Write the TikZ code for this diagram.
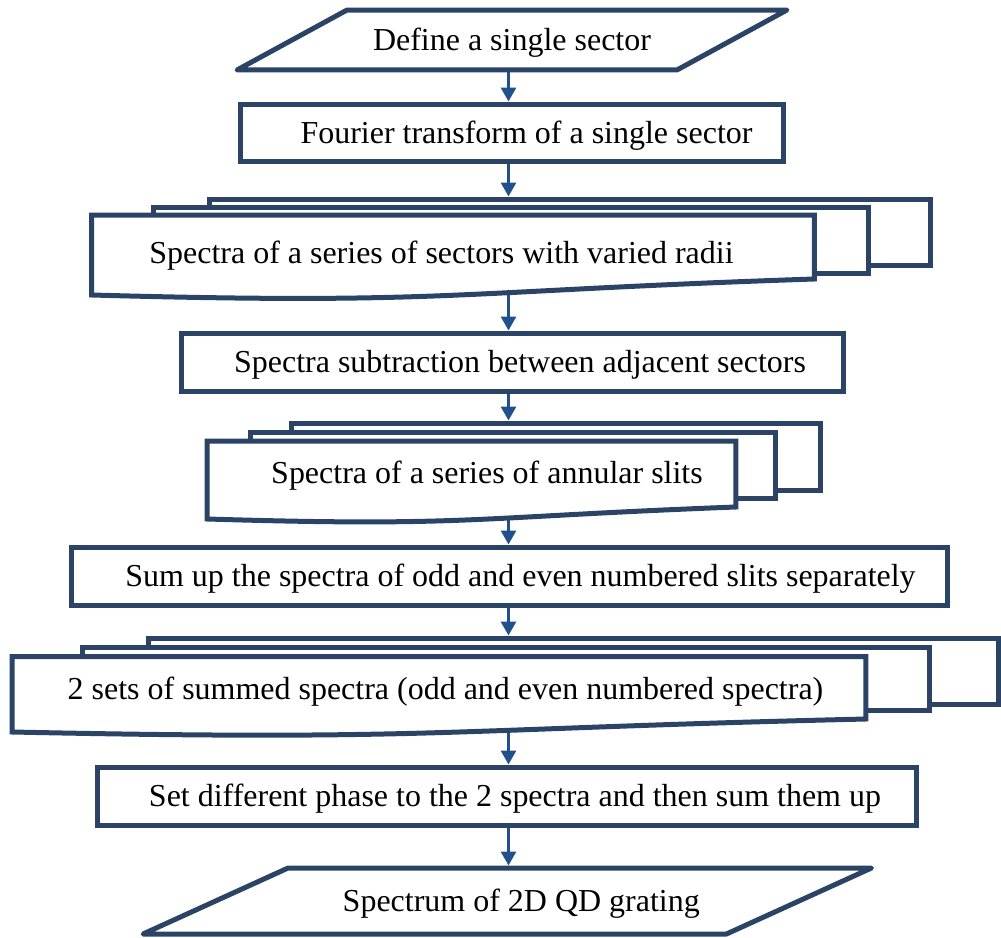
\documentclass[tikz,border=0pt]{standalone}
\usepackage{fontspec}
\setmainfont{Liberation Serif}
\usetikzlibrary{arrows.meta,calc,backgrounds}
\definecolor{boxblue}{HTML}{2B4466}
\definecolor{arrowblue}{HTML}{22508C}

\begin{document}
\begin{tikzpicture}[
    x=0.02cm, y=-0.02cm,
    box/.style={rectangle, draw=boxblue, fill=white, line width=0.1cm, minimum height=1.16cm, inner sep=0pt, font=\fontsize{18.2pt}{22pt}\selectfont, text height=12pt, text depth=0pt},
    para/.style={rectangle, inner sep=0pt, outer sep=0pt, font=\fontsize{18.2pt}{22pt}\selectfont, text height=12pt, text depth=0pt},
    paraline/.style={draw=boxblue, line width=0.1cm, line join=round},
    sheet/.style={rectangle, draw=boxblue, fill=white, line width=0.1cm, inner sep=0pt},
    front/.style={rectangle, inner sep=0pt, outer sep=0pt},
    wave/.style={draw=boxblue, fill=white, line width=0.1cm},
    txt/.style={inner sep=0pt, font=\fontsize{18.2pt}{22pt}\selectfont, text height=12pt, text depth=0pt},
    flow/.style={draw=arrowblue, line width=0.06cm, -{Triangle[width=0.3cm, length=0.28cm]}}
]
    \useasboundingbox (0,0) rectangle (1001,937);
    \coordinate (axis) at (508.5,0);

    % Input
    \node[para, minimum width=8.8cm, minimum height=1.2cm] (define) at (512,40) {Define a single sector};
    \draw[paraline] ($(define.south west)+(-55,0)$) -- ($(define.north west)+(55,0)$)
        -- ($(define.north east)+(55,0)$) -- ($(define.south east)+(-55,0)$) -- cycle;
    \node[box, minimum width=10.86cm] (fourier) at (512,133) {\hspace*{0.58cm}Fourier transform of a single sector};

    % Sector spectra (three sheets)
    \node[sheet, minimum width=14.44cm, minimum height=1.34cm] (sectors3) at (570,232.5) {};
    \node[sheet, minimum width=14.32cm, minimum height=1.34cm] (sectors2) at (511,240.5) {};
    \node[front, minimum width=14.46cm, minimum height=1.28cm] (sectors1) at (453,247) {};
    \draw[wave] (sectors1.north west) -- (sectors1.north east) -- (sectors1.south east)
        .. controls ($(sectors1.south)+(0,12)$) and ($(sectors1.south)+(0,26)$) .. ($(sectors1.south west)+(0,16)$) -- cycle;
    \node[txt] (sectorstxt) at (441.5,252.5) {Spectra of a series of sectors with varied radii};

    \node[box, minimum width=13.24cm] (subtr) at (512.5,362) {\hspace*{0.3cm}Spectra subtraction between adjacent sectors};

    % Annular slits (three sheets)
    \node[sheet, minimum width=10.6cm, minimum height=1.34cm] (slits3) at (556,456.5) {};
    \node[sheet, minimum width=10.52cm, minimum height=1.32cm] (slits2) at (513,465) {};
    \node[front, minimum width=10.58cm, minimum height=1.32cm] (slits1) at (471.5,474) {};
    \draw[wave] (slits1.north west) -- (slits1.north east) -- (slits1.south east)
        .. controls ($(slits1.south)+(0,10)$) and ($(slits1.south)+(0,20)$) .. ($(slits1.south west)+(0,12)$) -- cycle;
    \node[txt] (slitstxt) at (487,472.5) {Spectra of a series of annular slits};

    \node[box, minimum width=17.52cm] (sum) at (509.5,576) {\hspace*{0.44cm}Sum up the spectra of odd and even numbered slits separately};

    % Odd / even sums (three sheets)
    \node[sheet, minimum width=17.02cm, minimum height=1.32cm] (sets3) at (573.5,671) {};
    \node[sheet, minimum width=16.96cm, minimum height=1.26cm] (sets2) at (506,678.5) {};
    \node[front, minimum width=17.08cm, minimum height=1.25cm] (sets1) at (439,687.75) {};
    \draw[wave] (sets1.north west) -- (sets1.north east) -- (sets1.south east)
        .. controls ($(sets1.south)+(0,10)$) and ($(sets1.south)+(0,22)$) .. ($(sets1.south west)+(0,13)$) -- cycle;
    \node[txt] (setstxt) at (445.5,688.5) {2 sets of summed spectra (odd and even numbered spectra)};

    \node[box, minimum width=16.38cm] (phase) at (507,796) {\hspace*{0.32cm}Set different phase to the 2 spectra and then sum them up};

    % Output
    \node[para, minimum width=11.67cm, minimum height=1.32cm] (spectrum) at (507.25,901) {\hspace*{0.56cm}Spectrum of 2D QD grating};
    \draw[paraline] ($(spectrum.south west)+(-72.5,0)$) -- ($(spectrum.north west)+(72.5,0)$)
        -- ($(spectrum.north east)+(72.5,0)$) -- ($(spectrum.south east)+(-72.5,0)$) -- cycle;

    % Flow arrows
    \begin{pgfonlayer}{background}
        \draw[flow] (define.south -| axis) -- (fourier.north -| axis);
        \draw[flow] (fourier.south -| axis) -- (sectors3.north -| axis);
        \draw[flow] (sectors1.south -| axis) -- (subtr.north -| axis);
        \draw[flow] (subtr.south -| axis) -- (slits3.north -| axis);
        \draw[flow] (slits1.south -| axis) -- (sum.north -| axis);
        \draw[flow] (sum.south -| axis) -- (sets3.north -| axis);
        \draw[flow] (sets1.south -| axis) -- (phase.north -| axis);
        \draw[flow, shorten >=0.05cm] (phase.south -| axis) -- (spectrum.north -| axis);
    \end{pgfonlayer}
\end{tikzpicture}
\end{document}
